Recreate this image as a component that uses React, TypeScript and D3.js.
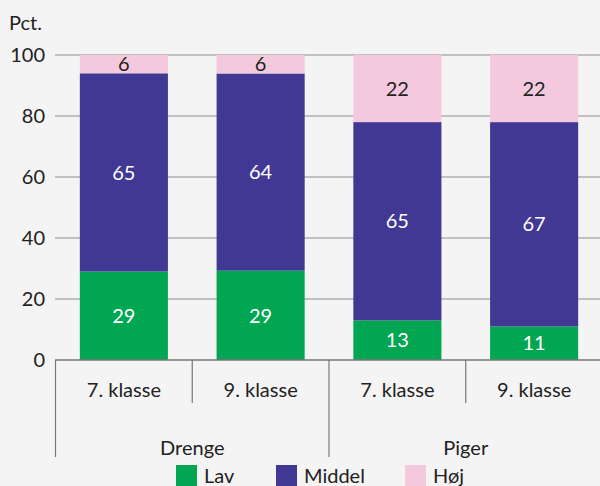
import React from "react";
import * as d3 from "d3";

const groups = ["Drenge", "Drenge", "Piger", "Piger"];
const classes = ["7. klasse", "9. klasse", "7. klasse", "9. klasse"];
const lav = [29, 29, 13, 11];
const middel = [65, 64, 65, 67];
const hoej = [6, 6, 22, 22];
const seriesNames = ["Lav", "Middel", "Høj"];
const yTicks = [0, 20, 40, 60, 80, 100];

const colors = ["#00a651", "#413894", "#f4c9dd"];
const textColors = ["#ffffff", "#ffffff", "#222222"];
const W = 600;
const H = 486;
const FONT = "Lato, 'Noto Sans', sans-serif";
const FS = 20;

export default function App() {
  const keys = classes.map((c, i) => `${groups[i]}|${c}|${i}`);
  const rows = keys.map((k, i) => ({ key: k, Lav: lav[i], Middel: middel[i], "Høj": hoej[i] }));
  const stack = d3.stack<any>().keys(seriesNames).offset(d3.stackOffsetExpand);
  const stacked = stack(rows);

  const x = d3.scaleBand().domain(keys).range([55.5, 602.5]).paddingInner(0.356).paddingOuter(0.178);
  const y = d3.scaleLinear().domain([0, 100]).range([360, 55]);
  const step = x.step();
  const bandStart = (k: string) => (x(k) as number) - step * 0.178;

  const groupNames = Array.from(new Set(groups));

  return (
    <svg width={W} height={H} style={{ position: "absolute", left: 0, top: 0, background: "#f4f4f4", fontFamily: FONT }}>
      <rect x={0} y={0} width={W} height={H} fill="#f4f4f4" />
      <text x={9} y={30} fontSize={FS} fill="#222">Pct.</text>
      {yTicks.map((t) => (
        <g key={t}>
          {t > 0 && <line x1={55} x2={W} y1={y(t)} y2={y(t)} stroke="#8c8c8c" strokeWidth={1.2} />}
          <text x={45} y={y(t)} dy="0.36em" textAnchor="end" fontSize={FS} fill="#222">{t}</text>
        </g>
      ))}
      {stacked.map((s, si) =>
        s.map((d, i) => {
          const k = keys[i];
          const y0 = y(d[0] * 100);
          const y1 = y(d[1] * 100);
          const vals = [lav, middel, hoej][si];
          return (
            <g key={`${si}-${i}`}>
              <rect x={x(k)} y={y1} width={x.bandwidth()} height={y0 - y1} fill={colors[si]} />
              <text x={(x(k) as number) + x.bandwidth() / 2} y={(y0 + y1) / 2} dy="0.36em" textAnchor="middle" fontSize={FS} fill={textColors[si]}>
                {vals[i]}
              </text>
            </g>
          );
        })
      )}
      <line x1={55} x2={W} y1={360} y2={360} stroke="#777" strokeWidth={1.5} />
      {keys.map((k, i) => {
        const bs = bandStart(k);
        const isGroupStart = i === 0 || groups[i] !== groups[i - 1];
        return (
          <g key={k}>
            <line x1={bs} x2={bs} y1={360} y2={isGroupStart ? 457 : 403} stroke="#777" strokeWidth={1.2} />
            <text x={bs + step / 2} y={390} dy="0.36em" textAnchor="middle" fontSize={FS} fill="#222">{classes[i]}</text>
          </g>
        );
      })}
      {groupNames.map((g) => {
        const idx = keys.filter((_, i) => groups[i] === g);
        const start = bandStart(idx[0]);
        const end = bandStart(idx[idx.length - 1]) + step;
        return (
          <text key={g} x={(start + end) / 2} y={448} dy="0.36em" textAnchor="middle" fontSize={FS} fill="#222">{g}</text>
        );
      })}
      {seriesNames.map((n, i) => {
        const lx = [176, 276, 405][i];
        return (
          <g key={n}>
            <rect x={lx} y={465} width={21} height={21} fill={colors[i]} />
            <text x={lx + 28} y={483} fontSize={FS} fill="#222">{n}</text>
          </g>
        );
      })}
    </svg>
  );
}
